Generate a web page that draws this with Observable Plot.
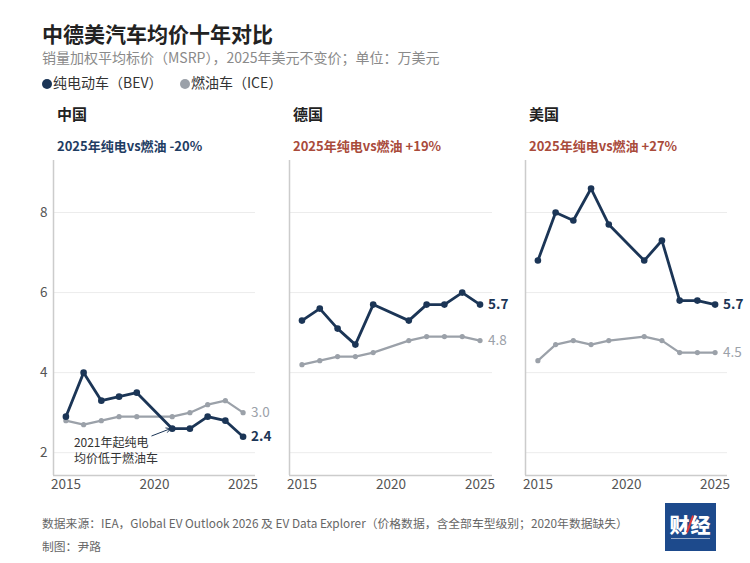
<!DOCTYPE html>
<html><head><meta charset="utf-8">
<script src="https://cdn.jsdelivr.net/npm/d3@7"></script>
<script src="https://cdn.jsdelivr.net/npm/@observablehq/plot@0.6"></script>
<style>
body{margin:0;background:#fff;font-family:"Noto Sans CJK SC","Noto Sans",sans-serif;width:750px;height:563px;position:relative;overflow:hidden}
.abs{position:absolute;white-space:nowrap}
.ttl{left:42px;top:21px;font-size:21px;line-height:24px;font-weight:700;color:#222}
.sub{left:42px;top:47px;font-size:14px;line-height:20px;color:#8a8a8a}
.leg{top:72px;font-size:14px;line-height:20px;color:#333}
.dot{display:inline-block;width:10px;height:10px;border-radius:50%;vertical-align:-1px;margin-right:1px}
.ptitle{font-size:15px;line-height:20px;font-weight:700;color:#222}
.psub{font-size:13px;line-height:18px;font-weight:700}
.foot{left:42px;font-size:11.8px;line-height:16px;color:#666}
.logo{left:665px;top:503px;width:51px;height:48px;background:#1d4a8c;overflow:hidden}
</style></head><body>
<div class="abs ttl">中德美汽车均价十年对比</div>
<div class="abs sub">销量加权平均标价（MSRP），2025年美元不变价；单位：万美元</div>
<div id="legend"></div>
<div id="panels"></div>
<div class="abs foot" style="top:515px">数据来源：IEA，Global EV Outlook 2026 及 EV Data Explorer（价格数据，含全部车型级别；2020年数据缺失）</div>
<div class="abs foot" style="top:538px">制图：尹路</div>
<div class="abs logo">
  <div class="abs" style="left:4px;top:11px;width:43px;text-align:center;font-size:20px;line-height:22px;font-weight:900;color:#fff;letter-spacing:1px">财经</div>
  <div class="abs" style="left:24px;top:12px;width:2px;height:18px;background:#e23b3b;transform:rotate(20deg)"></div>
  <div class="abs" style="left:6px;top:35px;width:39px;height:1px;background:rgba(255,255,255,.55)"></div>
</div>
<script>
// ---- data ----
const years = [2015, 2016, 2017, 2018, 2019, 2021, 2022, 2023, 2024, 2025]; // 2020 missing
const countries = ["中国", "德国", "美国"];
const gapLabels = ["2025年纯电vs燃油 -20%", "2025年纯电vs燃油 +19%", "2025年纯电vs燃油 +27%"];
const cnBEV = [2.9, 4.0, 3.3, 3.4, 3.5, 2.6, 2.6, 2.9, 2.8, 2.4];
const cnICE = [2.8, 2.7, 2.8, 2.9, 2.9, 2.9, 3.0, 3.2, 3.3, 3.0];
const deBEV = [5.3, 5.6, 5.1, 4.7, 5.7, 5.3, 5.7, 5.7, 6.0, 5.7];
const deICE = [4.2, 4.3, 4.4, 4.4, 4.5, 4.8, 4.9, 4.9, 4.9, 4.8];
const usBEV = [6.8, 8.0, 7.8, 8.6, 7.7, 6.8, 7.3, 5.8, 5.8, 5.7];
const usICE = [4.3, 4.7, 4.8, 4.7, 4.8, 4.9, 4.8, 4.5, 4.5, 4.5];
const seriesNames = ["纯电动车（BEV）", "燃油车（ICE）"];
const xTicks = [2015, 2020, 2025];
const yTicks = [2, 4, 6, 8];
const annotationLines = [
  {x: 2015.45, y: 2.25, text: "2021年起纯电"},
  {x: 2015.45, y: 1.84, text: "均价低于燃油车"}
];
const annotationArrow = {x1: 2019.85, y1: 2.42, x2: 2020.9, y2: 2.6};

const BEV_C = "#1b3556", ICE_C = "#9ba1a9";
const gapColors = ["#1f3d63", "#a94b3b", "#a94b3b"];
const xDomain = [2014.3, 2025.7];
const yDomain = [1.43, 9.3];
const bevAll = [cnBEV, deBEV, usBEV], iceAll = [cnICE, deICE, usICE];

// legend
const leg = document.getElementById("legend");
[[seriesNames[0], BEV_C, 42], [seriesNames[1], ICE_C, 180]].forEach(([t, c, l]) => {
  const d = document.createElement("div");
  d.className = "abs leg"; d.style.left = l + "px";
  d.innerHTML = `<span class="dot" style="background:${c}"></span>${t}`;
  leg.appendChild(d);
});

// panels: [svgLeft, width, marginLeft, marginRight]
const layout = [[0, 280, 53, 25], [280, 240, 9, 28], [516, 234, 9, 23]];
const panels = document.getElementById("panels");
countries.forEach((name, i) => {
  const [L, W, ml, mr] = layout[i];
  const t = document.createElement("div");
  t.className = "abs ptitle"; t.style.left = (L + ml + 4) + "px"; t.style.top = "104px";
  t.textContent = name; panels.appendChild(t);
  const s = document.createElement("div");
  s.className = "abs psub"; s.style.left = (L + ml + 4) + "px"; s.style.top = "137px";
  s.style.color = gapColors[i]; s.textContent = gapLabels[i]; panels.appendChild(s);

  const bev = years.map((y, j) => ({year: y, v: bevAll[i][j]}));
  const ice = years.map((y, j) => ({year: y, v: iceAll[i][j]}));
  const marks = [
    Plot.gridY(yTicks, {stroke: "#ececec", strokeOpacity: 1, strokeWidth: 1}),
    Plot.ruleX([xDomain[0]], {stroke: "#cccccc", strokeWidth: 1.5}),
    Plot.ruleY([yDomain[0]], {stroke: "#cccccc", strokeWidth: 1.5}),
    Plot.line(ice, {x: "year", y: "v", stroke: ICE_C, strokeWidth: 2.2}),
    Plot.dot(ice, {x: "year", y: "v", fill: ICE_C, r: 2.6}),
    Plot.line(bev, {x: "year", y: "v", stroke: BEV_C, strokeWidth: 2.8}),
    Plot.dot(bev, {x: "year", y: "v", fill: BEV_C, r: 3.3}),
    Plot.text(ice.slice(-1), {x: "year", y: "v", text: d => d.v.toFixed(1), dx: 8, textAnchor: "start", fill: ICE_C, fontSize: 13.5}),
    Plot.text(bev.slice(-1), {x: "year", y: "v", text: d => d.v.toFixed(1), dx: 8, textAnchor: "start", fill: BEV_C, fontSize: 13.5, fontWeight: 700})
  ];
  if (i === 0) {
    marks.push(
      Plot.text(annotationLines, {x: "x", y: "y", text: "text", textAnchor: "start", fill: "#333", fontSize: 12}),
      Plot.arrow([annotationArrow], {x1: "x1", y1: "y1", x2: "x2", y2: "y2", stroke: BEV_C, strokeWidth: 1, headLength: 7})
    );
  }
  const chart = Plot.plot({
    width: W, height: 355, marginTop: 10, marginBottom: 30, marginLeft: ml, marginRight: mr,
    style: {fontFamily: '"Noto Sans CJK SC", sans-serif', fontSize: "13.5px", color: "#555", background: "transparent"},
    x: {domain: xDomain, ticks: xTicks, tickFormat: d => String(d), tickSize: 0, tickPadding: 4, label: null},
    y: {domain: yDomain, ticks: yTicks, tickSize: 0, tickPadding: 6, label: null, axis: i === 0 ? "left" : null},
    marks
  });
  chart.style.position = "absolute"; chart.style.left = L + "px"; chart.style.top = "150px";
  panels.appendChild(chart);
});
</script>
</body></html>
